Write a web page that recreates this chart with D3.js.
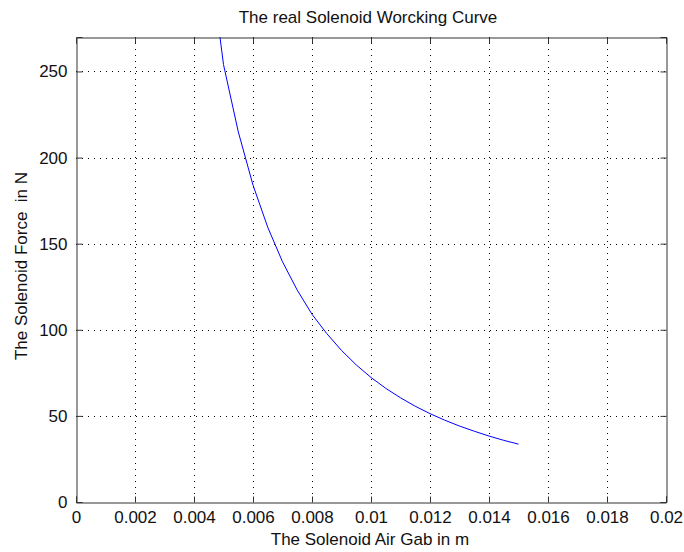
<!DOCTYPE html>
<html>
<head>
<meta charset="utf-8">
<script src="https://cdn.jsdelivr.net/npm/d3@7"></script>
<style>
  body { margin: 0; background: #fff; }
  text { font-family: "Liberation Sans", Arial, sans-serif; fill: #111; }
</style>
</head>
<body>
<script>
// air gap (m) and force (N)
var gap = [0.00488, 0.0050, 0.0055, 0.0060, 0.0065, 0.0070, 0.0075, 0.0080, 0.0085,
           0.0090, 0.0095, 0.0100, 0.0105, 0.0110, 0.0115, 0.0120, 0.0125, 0.0130,
           0.0135, 0.0140, 0.0145, 0.0150];
var force = [270, 254, 215, 184, 159.5, 139.5, 123, 109, 97.8,
             88, 79.6, 72.3, 66, 60.5, 55.6, 51.3, 47.5, 44.1,
             41.1, 38.3, 35.8, 33.6];
var xTicks = [0, 0.002, 0.004, 0.006, 0.008, 0.01, 0.012, 0.014, 0.016, 0.018, 0.02];
var yTicks = [0, 50, 100, 150, 200, 250];

(function()
{
    var W = 684, H = 552;
    var pLeft = 76, pRight = 666, pTop = 37, pBottom = 502;
    var fs = "17px";

    var x = d3.scaleLinear().domain([0, 0.02]).range([pLeft, pRight]);
    var y = d3.scaleLinear().domain([0, 270]).range([pBottom, pTop]);

    var svg = d3.select("body").append("svg")
        .attr("width", W)
        .attr("height", H);

    // grid
    svg.selectAll("line.gx")
        .data(xTicks.slice(1, -1))
        .enter()
        .append("line")
        .attr("x1", function(d) { return Math.round(x(d)) + 0.5; })
        .attr("x2", function(d) { return Math.round(x(d)) + 0.5; })
        .attr("y1", pTop)
        .attr("y2", pBottom)
        .attr("stroke", "#000")
        .attr("stroke-dasharray", "1,5");
    svg.selectAll("line.gy")
        .data(yTicks.slice(1))
        .enter()
        .append("line")
        .attr("y1", function(d) { return Math.round(y(d)) + 0.5; })
        .attr("y2", function(d) { return Math.round(y(d)) + 0.5; })
        .attr("x1", pLeft)
        .attr("x2", pRight)
        .attr("stroke", "#000")
        .attr("stroke-dasharray", "1,5");

    // curve
    var line = d3.line()
        .x(function(d, i) { return x(gap[i]); })
        .y(function(d) { return y(d); });
    svg.append("path")
        .datum(force)
        .attr("d", line)
        .attr("fill", "none")
        .attr("stroke", "#0000ff")
        .attr("stroke-width", 1);

    // box + axes, ticks pointing inward on every side
    var xAxis = d3.axisBottom(x).tickValues(xTicks).tickSize(-6).tickPadding(8)
        .tickFormat(function(d) { return d === 0 ? "0" : String(+d.toFixed(3)); });
    var yAxis = d3.axisLeft(y).tickValues(yTicks).tickSize(-6).tickPadding(9)
        .tickFormat(d3.format("d"));

    svg.append("g").attr("transform", "translate(0," + (pBottom + 0.5) + ")").call(xAxis);
    svg.append("g").attr("transform", "translate(" + (pLeft + 0.5) + ",0)").call(yAxis);
    svg.append("g").attr("transform", "translate(0," + (pTop + 0.5) + ")")
        .call(d3.axisTop(x).tickValues(xTicks).tickSize(-6).tickFormat(""));
    svg.append("g").attr("transform", "translate(" + (pRight + 0.5) + ",0)")
        .call(d3.axisRight(y).tickValues(yTicks).tickSize(-6).tickFormat(""));

    svg.selectAll(".domain").attr("stroke", "#333");
    svg.selectAll(".tick line").attr("stroke", "#333");
    svg.selectAll(".tick text")
        .attr("font-family", "Liberation Sans, Arial, sans-serif")
        .attr("font-size", fs)
        .attr("fill", "#111");

    // titles
    svg.append("text")
        .attr("x", 368)
        .attr("y", 23)
        .attr("text-anchor", "middle")
        .attr("font-size", fs)
        .text("The real Solenoid Worcking Curve");
    svg.append("text")
        .attr("x", 370)
        .attr("y", 545)
        .attr("text-anchor", "middle")
        .attr("font-size", fs)
        .text("The Solenoid Air Gab in m");
    svg.append("text")
        .attr("transform", "translate(27,266) rotate(-90)")
        .attr("text-anchor", "middle")
        .attr("font-size", fs)
        .style("white-space", "pre")
        .text("The Solenoid Force  in N");
})();
</script>
</body>
</html>
